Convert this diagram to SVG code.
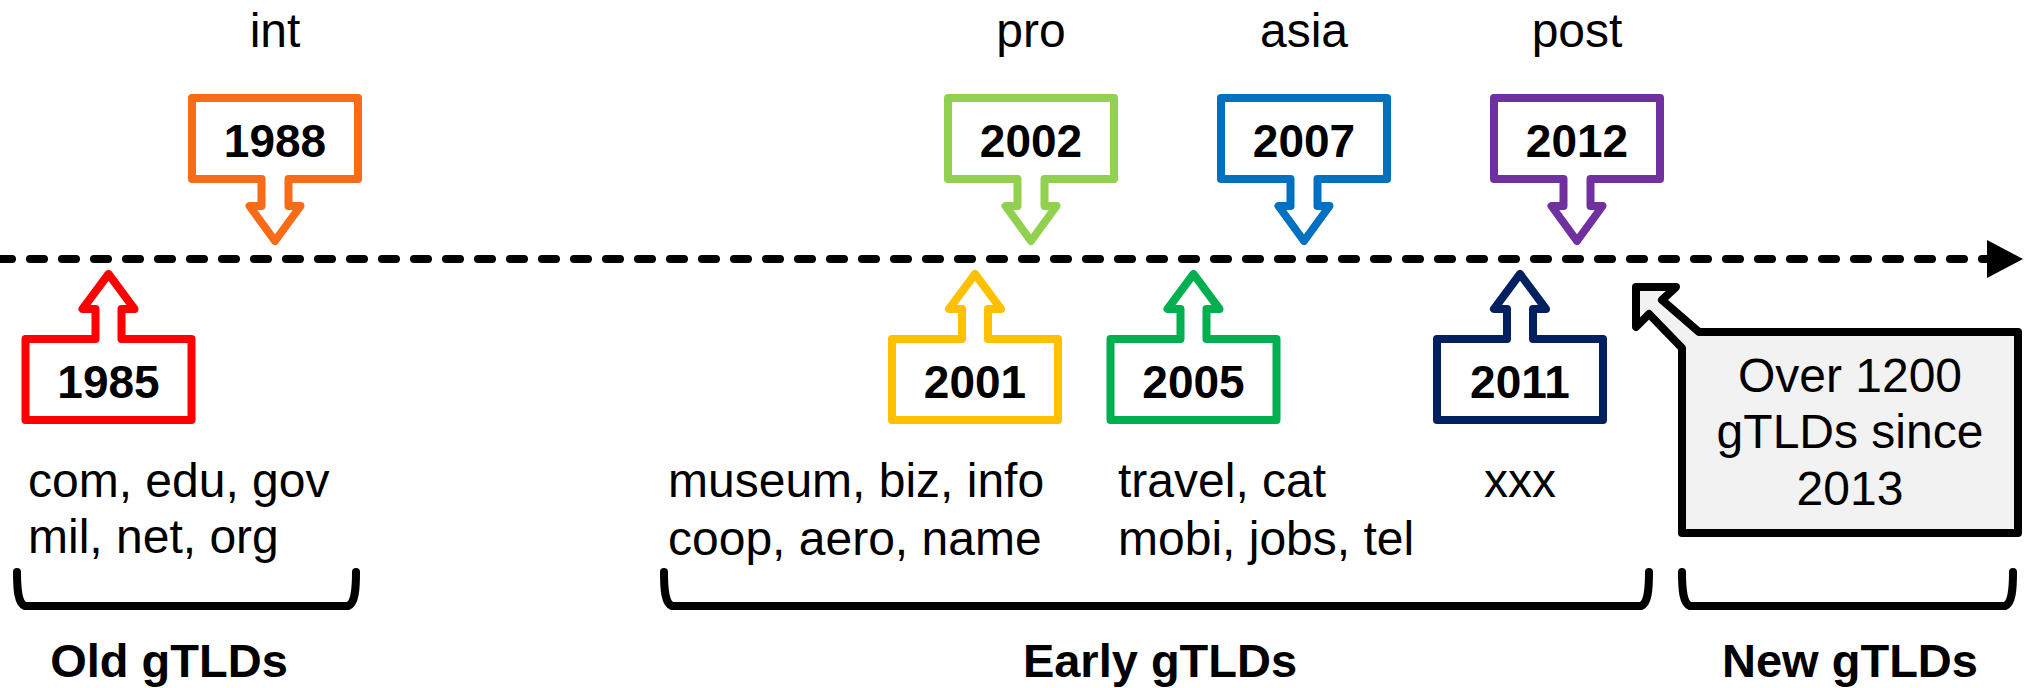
<svg xmlns="http://www.w3.org/2000/svg" width="2025" height="688" viewBox="0 0 2025 688">
<style>
.t{font-family:"Liberation Sans",Arial,sans-serif;font-size:48px;fill:#000}
.y{font-family:"Liberation Sans",Arial,sans-serif;font-size:46px;font-weight:bold;fill:#000;text-anchor:middle}
.b{font-family:"Liberation Sans",Arial,sans-serif;font-size:47px;font-weight:bold;fill:#000;text-anchor:middle}
.m{text-anchor:middle}
.c{fill:#fff;stroke-width:8;stroke-linejoin:round}
.br{fill:none;stroke:#000;stroke-width:8;stroke-linecap:round}
</style>
<rect width="2025" height="688" fill="#fff"/>
<g id="connectors">
<line x1="-2" y1="259" x2="1988" y2="259" stroke="#000" stroke-width="8" stroke-linecap="round" stroke-dasharray="14 18"/>
<polygon points="1987,240 2023,259 1987,278" fill="#000"/>
</g>
<g id="n1985">
<path class="c" stroke="#FF0000" d="M25.5,420 H191.5 V339 H121.5 V309 H134.5 L108.5,274 L82.5,309 H95.5 V339 H25.5 Z"/>
<text class="y" x="108.5" y="398">1985</text>
<text class="t" x="28" y="497">com, edu, gov</text>
<text class="t" x="28" y="553">mil, net, org</text>
</g>
<g id="n1988">
<path class="c" stroke="#F96B16" d="M192,98 H358 V179 H288.5 V206 H300.5 L275,241 L249.5,206 H261.5 V179 H192 Z"/>
<text class="y" x="275" y="157">1988</text>
<text class="t m" x="275" y="47">int</text>
</g>
<g id="n2001">
<path class="c" stroke="#FFC000" d="M892,420 H1058 V339 H988 V309 H1001 L975,274 L949,309 H962 V339 H892 Z"/>
<text class="y" x="975" y="398">2001</text>
<text class="t" x="668" y="497">museum, biz, info</text>
<text class="t" x="668" y="555">coop, aero, name</text>
</g>
<g id="n2002">
<path class="c" stroke="#92D050" d="M948,98 H1114 V179 H1044.5 V206 H1056.5 L1031,241 L1005.5,206 H1017.5 V179 H948 Z"/>
<text class="y" x="1031" y="157">2002</text>
<text class="t m" x="1031" y="47">pro</text>
</g>
<g id="n2005">
<path class="c" stroke="#00B050" d="M1110.5,420 H1276.5 V339 H1206.5 V309 H1219.5 L1193.5,274 L1167.5,309 H1180.5 V339 H1110.5 Z"/>
<text class="y" x="1193.5" y="398">2005</text>
<text class="t" x="1118" y="497">travel, cat</text>
<text class="t" x="1118" y="555">mobi, jobs, tel</text>
</g>
<g id="n2007">
<path class="c" stroke="#0070C0" d="M1221,98 H1387 V179 H1317.5 V206 H1329.5 L1304,241 L1278.5,206 H1290.5 V179 H1221 Z"/>
<text class="y" x="1304" y="157">2007</text>
<text class="t m" x="1304" y="47">asia</text>
</g>
<g id="n2011">
<path class="c" stroke="#002060" d="M1437,420 H1603 V339 H1533 V309 H1546 L1520,274 L1494,309 H1507 V339 H1437 Z"/>
<text class="y" x="1520" y="398">2011</text>
<text class="t m" x="1520" y="497">xxx</text>
</g>
<g id="n2012">
<path class="c" stroke="#7030A0" d="M1494,98 H1660 V179 H1590.5 V206 H1602.5 L1577,241 L1551.5,206 H1563.5 V179 H1494 Z"/>
<text class="y" x="1577" y="157">2012</text>
<text class="t m" x="1577" y="47">post</text>
</g>
<g id="new-callout">
<path d="M1636,287 L1676,287 L1662,300 L1699,332 H2018 V533 H1682 V348 L1649,314 L1636,327 Z" fill="#F2F2F2" stroke="#000" stroke-width="8" stroke-linejoin="round"/>
<text class="t m" x="1850" y="392">Over 1200</text>
<text class="t m" x="1850" y="448">gTLDs since</text>
<text class="t m" x="1850" y="505">2013</text>
</g>
<g id="old-group">
<path class="br" d="M17,572 C17,590 18,603 25,606 H348 C355,603 356,590 356,572"/>
<text class="b" x="169" y="677">Old gTLDs</text>
</g>
<g id="early-group">
<path class="br" d="M664,572 C664,590 665,603 672,606 H1641 C1648,603 1649,590 1649,572"/>
<text class="b" x="1160" y="677">Early gTLDs</text>
</g>
<g id="new-group">
<path class="br" d="M1682,572 C1682,590 1683,603 1690,606 H2005 C2012,603 2013,590 2013,572"/>
<text class="b" x="1850" y="677">New gTLDs</text>
</g>
</svg>
